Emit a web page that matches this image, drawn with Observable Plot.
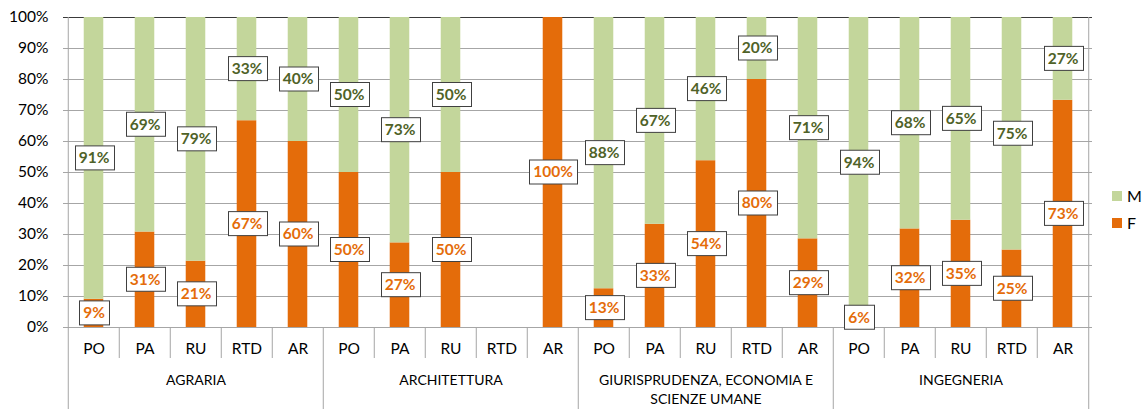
<!DOCTYPE html>
<html><head><meta charset="utf-8">
<script src="https://cdn.jsdelivr.net/npm/d3@7"></script>
<script src="https://cdn.jsdelivr.net/npm/@observablehq/plot@0.6"></script>
<style>
body{margin:0;background:#fff;font-family:Lato,sans-serif}
#wrap{position:relative;width:1145px;height:409px}
.leg{position:absolute;left:1112px;font-size:16px;line-height:16px;color:#000;display:flex;align-items:center}
.leg span.sw{display:inline-block;width:10px;height:10px;margin-right:5px}
</style>
</head><body><div id="wrap"></div>
<script>
const gruppi = ["AGRARIA", "ARCHITETTURA", "GIURISPRUDENZA, ECONOMIA E\nSCIENZE UMANE", "INGEGNERIA"];
const ruoli = ["PO", "PA", "RU", "RTD", "AR"];
const femmine = [
  [9.1, 30.8, 21.4, 66.7, 60],
  [50, 27.3, 50, null, 100],
  [12.5, 33.3, 53.8, 80, 28.6],
  [6.3, 31.8, 34.6, 25, 73.3]
];
const maschi = [
  [90.9, 69.2, 78.6, 33.3, 40],
  [50, 72.7, 50, null, 0],
  [87.5, 66.7, 46.2, 20, 71.4],
  [93.7, 68.2, 65.4, 75, 26.7]
];
const yTicks = [0, 0.1, 0.2, 0.3, 0.4, 0.5, 0.6, 0.7, 0.8, 0.9, 1];

const COL_M = "#C3D69B", COL_F = "#E46C0A", TXT_M = "#4F6228", TXT_F = "#E46C0A";

const key = (g, r) => g + "|" + r;
const keys = [];
const rows = [];
gruppi.forEach((g, gi) => ruoli.forEach((r, ri) => {
  keys.push(key(g, r));
  const f = femmine[gi][ri], m = maschi[gi][ri];
  if (f == null) return;
  rows.push({key: key(g, r), sesso: "F", v: f / 100, y1: 0, y2: f / 100});
  rows.push({key: key(g, r), sesso: "M", v: m / 100, y1: f / 100, y2: (f + m) / 100});
}));

const width = 1145, height = 409;
const mL = 63, mR = 53, mT = 17, mB = 82;
const bw = (width - mL - mR) / keys.length;
const barInset = (bw - 20) / 2;

const firstKeys = gruppi.map(g => key(g, ruoli[0]));
const innerKeys = keys.filter(k => !firstKeys.includes(k));

const chart = Plot.plot({
  width, height,
  marginLeft: mL, marginRight: mR, marginTop: mT, marginBottom: mB,
  style: {fontFamily: "Lato, sans-serif", fontSize: "15px", background: "white", overflow: "visible", color: "#000"},
  x: {domain: keys, padding: 0, axis: null},
  y: {domain: [0, 1], axis: null},
  color: {domain: ["M", "F"], range: [COL_M, COL_F]},
  marks: [
    Plot.gridY(yTicks.slice(0, -1), {stroke: "#A6A6A6", strokeOpacity: 1}),
    Plot.ruleY([1], {stroke: "#3a3a3a"}),
    Plot.axisY(yTicks, {tickFormat: d3.format(".0%"), tickSize: 0, tickPadding: 15, fontSize: 15.5, label: null, fill: "#000"}),
    Plot.barY(rows, {x: "key", y1: "y1", y2: "y2", fill: "sesso", insetLeft: barInset, insetRight: barInset}),
    Plot.ruleY([0], {stroke: "#A6A6A6"}),
    Plot.axisX({tickFormat: d => d.split("|")[1], tickSize: 0, tickPadding: 15, fontSize: 15.5, label: null, fill: "#000"}),
    // short separators between roles
    Plot.ruleX(innerKeys, {x: d => d, y1: 0, y2: 0, dx: -bw / 2, insetBottom: -31, stroke: "#A6A6A6"}),
    // group separators below axis
    Plot.ruleX(firstKeys.slice(1), {x: d => d, y1: 0, y2: 0, dx: -bw / 2, insetBottom: -mB, stroke: "#A6A6A6"}),
    // outer borders
    Plot.ruleX([keys[0]], {x: d => d, y1: 1, y2: 0, dx: -bw / 2, insetBottom: -mB, stroke: "#A6A6A6"}),
    Plot.ruleX([keys[keys.length - 1]], {x: d => d, y1: 1, y2: 0, dx: bw / 2, insetBottom: -mB, stroke: "#A6A6A6"}),
    // group labels
    Plot.text(gruppi, {x: g => key(g, "RU"), frameAnchor: "bottom", dy: 43, lineAnchor: "top", lineHeight: 1.42, text: d => d, fontSize: 14, fill: "#000"}),
    // value labels
    Plot.text(rows.filter(d => d.sesso === "F" && d.v > 0), {x: "key", y: d => (d.y1 + d.y2) / 2, text: d => Math.round(d.v * 100) + "%", fill: TXT_F, fontWeight: "bold", fontSize: 15.5}),
    Plot.text(rows.filter(d => d.sesso === "M" && d.v > 0), {x: "key", y: d => (d.y1 + d.y2) / 2, text: d => Math.round(d.v * 100) + "%", fill: TXT_M, fontWeight: "bold", fontSize: 15.5})
  ]
});

const wrap = document.getElementById("wrap");
wrap.appendChild(chart);

// boxes behind the value labels
chart.querySelectorAll('g[aria-label="text"] text').forEach(t => {
  if (!/%$/.test(t.textContent)) return;
  const bb = t.getBBox();
  const cy = bb.y + bb.height / 2;
  const r = document.createElementNS("http://www.w3.org/2000/svg", "rect");
  const w = Math.round(bb.width + 8), h = 24;
  r.setAttribute("x", Math.round(bb.x + bb.width / 2 - w / 2) + 0.5);
  r.setAttribute("y", Math.round(cy - h / 2) + 0.5);
  r.setAttribute("width", w);
  r.setAttribute("height", h);
  r.setAttribute("fill", "#fff");
  r.setAttribute("stroke", "#404040");
  r.setAttribute("stroke-width", 1);
  const tr = t.getAttribute("transform");
  if (tr) r.setAttribute("transform", tr);
  t.parentNode.insertBefore(r, t);
});

// legend
[["M", COL_M, 188], ["F", COL_F, 215]].forEach(([lab, col, top]) => {
  const d = document.createElement("div");
  d.className = "leg";
  d.style.top = top + "px";
  d.innerHTML = `<span class="sw" style="background:${col}"></span>${lab}`;
  wrap.appendChild(d);
});
</script>
</body></html>
